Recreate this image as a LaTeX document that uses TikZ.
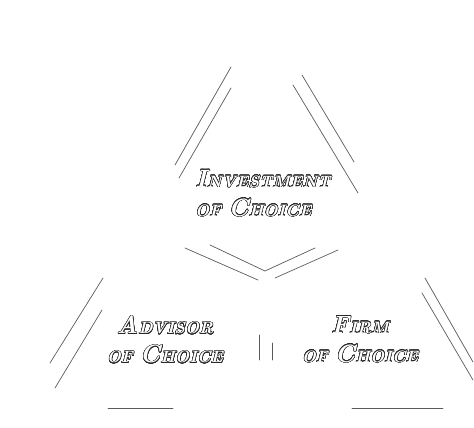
\documentclass[tikz,border=0pt]{standalone}
\usepackage{xcolor}
\usepackage{tikz}
\usepackage{contour}
\usetikzlibrary{positioning}
\definecolor{mydark}{RGB}{40,40,40}
\definecolor{mygray}{RGB}{90,90,90}
\contourlength{0.5pt}
\contournumber{24}
\newcommand{\lblcap}[1]{{\fontsize{25}{29}\selectfont #1}}
\newcommand{\lblline}[1]{\contour{mydark}{#1}}
\tikzset{
  edge/.style={line width=0.7pt, color=mygray, line cap=round},
  choice/.style={inner sep=0pt, text=white, align=center,
    font=\fontsize{16.5}{29}\selectfont\bfseries\itshape}
}

\begin{document}
\begin{tikzpicture}[x=1pt, y=-1pt]
  \useasboundingbox (0,0) rectangle (474,428);
  % Upper triangle
  \draw[edge] (231,67) -- (175,165);
  \draw[edge] (231,88) -- (179,178);
  \draw[edge] (302,75) -- (354,162);
  \draw[edge] (293,85) -- (358,193);
  % Chevron below the upper triangle
  \draw[edge] (210,245) -- (265,271) -- (315,248);
  \draw[edge] (185,248) -- (258,280);
  \draw[edge] (275,278) -- (338,250);
  % Lower left triangle
  \draw[edge] (103,278) -- (50,363);
  \draw[edge] (102,310) -- (55,388);
  \draw[edge] (108,408) -- (173,408);
  % Lower right triangle
  \draw[edge] (425,278) -- (473,362);
  \draw[edge] (422,293) -- (473,380);
  \draw[edge] (352,408) -- (443,408);
  % Divider between the lower triangles
  \draw[edge] (259,335) -- (259,360);
  \draw[edge] (272,343) -- (272,360);
  % Labels
  \node[choice, align=left, anchor=north west] (invest) at (195,170)
    {\lblline{\lblcap{I}NVESTMENT}\\ \lblline{OF \lblcap{C}HOICE}};
  \node[choice, anchor=north] (advisor) at (165,316)
    {\lblline{\lblcap{A}DVISOR}\\ \lblline{OF \lblcap{C}HOICE}};
  \node[choice, anchor=north] (firm) at (360,316)
    {\lblline{\lblcap{F}IRM}\\ \lblline{OF \lblcap{C}HOICE}};
\end{tikzpicture}
\end{document}
